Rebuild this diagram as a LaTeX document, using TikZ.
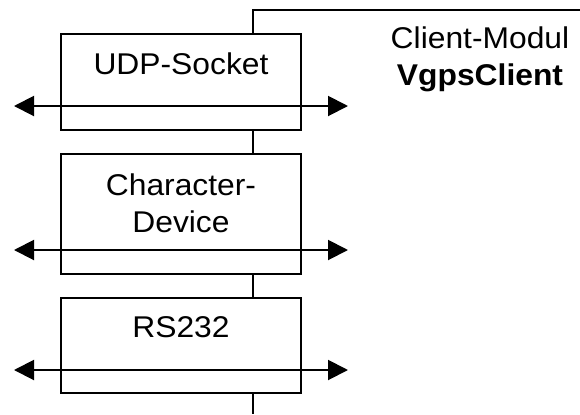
\documentclass[tikz,border=0pt]{standalone}
\usepackage{fontspec}
\setmainfont[FakeStretch=1.06]{Liberation Sans}
\usetikzlibrary{arrows.meta}
\begin{document}
\begin{tikzpicture}[x=0.5pt,y=-0.5pt,line width=1pt]
        \tikzstyle{layerbox}=[draw=black,line width=1pt,minimum width=120pt,inner sep=0pt]
        \tikzstyle{layertext}=[font=\fontsize{15}{18.5}\selectfont,align=center,anchor=base,inner sep=0pt]
        \tikzstyle{flow}=[draw,line width=1pt,{Triangle[length=10pt,width=10pt]}-{Triangle[length=10pt,width=10pt]}]
        \useasboundingbox (0,0) rectangle (580,414);
       \begin{scope}
         \node [layerbox,minimum height=48pt] (udp) at (181,82) {};
         \node [layerbox,minimum height=60pt] (chr) at (181,214) {};
         \node [layerbox,minimum height=47.5pt] (rs) at (181,345.5) {};

         \node [layertext] (udptext) at (181,74) {UDP-Socket};
         \node [layertext] (chrtext) at (181,232) {Character-\\Device};
         \node [layertext] (rstext) at (181,337) {RS232};
         \node [layertext] (client) at (480,85) {Client-Modul\\\textbf{VgpsClient}};

         \coordinate (topright) at (580,9.5);
         \coordinate (top) at (253,9.5);
         \coordinate (bottom) at (253,414);
         \coordinate (l1) at (14,106);  \coordinate (r1) at (348,106);
         \coordinate (l2) at (14,250);  \coordinate (r2) at (348,250);
         \coordinate (l3) at (14,370);  \coordinate (r3) at (348,370);

         \draw (topright) -- (top) -- (top |- udp.north);
         \draw (top |- udp.south) -- (top |- chr.north);
         \draw (top |- chr.south) -- (top |- rs.north);
         \draw (top |- rs.south) -- (bottom);

         \path[flow] (l1) -- (r1);
         \path[flow] (l2) -- (r2);
         \path[flow] (l3) -- (r3);
        \end{scope}
      \end{tikzpicture}
\end{document}
